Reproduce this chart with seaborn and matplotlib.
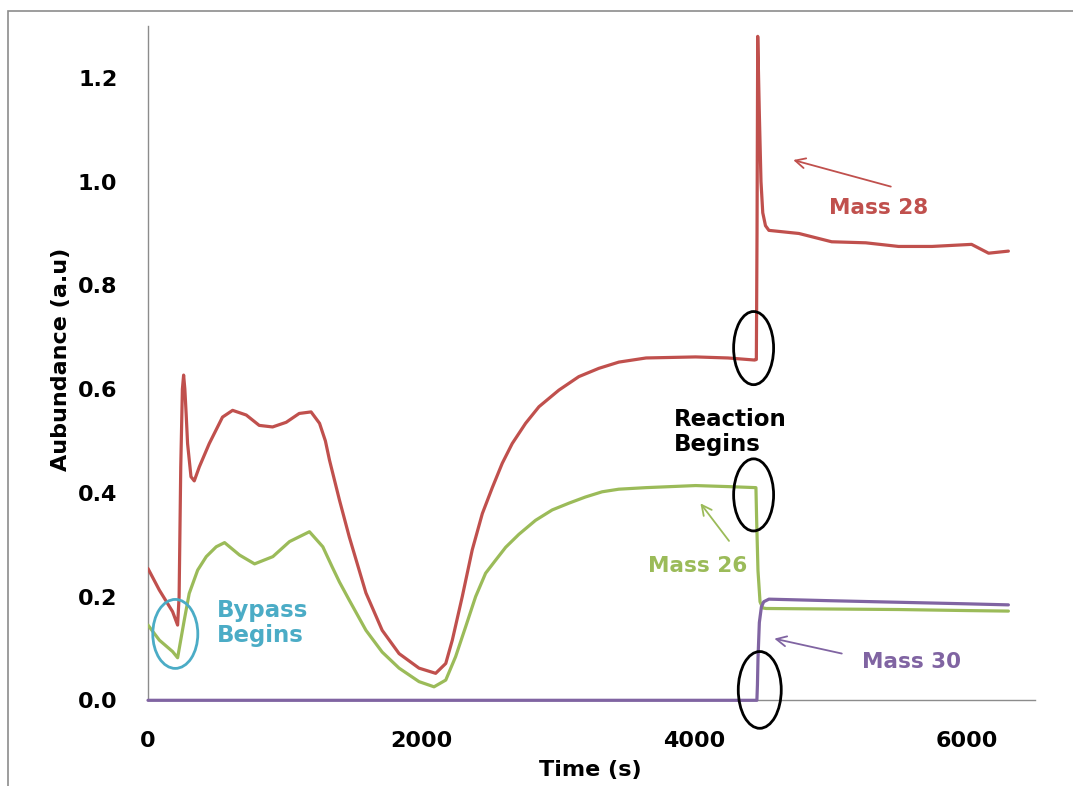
import numpy as np
import pandas as pd
import matplotlib
matplotlib.use("Agg")
import matplotlib.pyplot as plt
from matplotlib.patches import Ellipse, Rectangle
import seaborn as sns

# Data
time_28 = [0, 83, 180, 217, 228, 240, 252, 261, 270, 280, 290, 315, 339, 376, 449, 546,
           620, 720, 815, 913, 1013, 1108, 1195, 1257, 1300, 1330, 1403, 1475,
           1597, 1716, 1840, 1986, 2108, 2182, 2230, 2303, 2376, 2450, 2523, 2596, 2669,
           2767, 2865, 3011, 3157, 3304, 3450, 3650, 4013, 4250, 4445, 4458, 4463, 4468,
           4480, 4492, 4505, 4525, 4550, 4770, 5010, 5260, 5500, 5745, 6035, 6160, 6305]
mass_28 = [0.254, 0.2125, 0.171, 0.145, 0.2, 0.45, 0.6, 0.627, 0.6, 0.55, 0.495, 0.431,
           0.423, 0.45, 0.495, 0.546, 0.559, 0.55, 0.53, 0.527, 0.536, 0.553, 0.556,
           0.534, 0.5, 0.463, 0.386, 0.315, 0.207, 0.135, 0.09, 0.062, 0.052, 0.071,
           0.116, 0.20, 0.29, 0.36, 0.41, 0.457, 0.495, 0.534, 0.566, 0.598, 0.624, 0.64,
           0.652, 0.66, 0.662, 0.66, 0.656, 0.657, 0.9, 1.28, 1.13, 1.0, 0.94, 0.915,
           0.906, 0.90, 0.884, 0.882, 0.875, 0.875, 0.879, 0.862, 0.866]

time_26 = [0, 83, 180, 217, 266, 302, 364, 427, 500, 561, 671, 781, 915, 1037, 1183,
           1281, 1350, 1403, 1475, 1597, 1716, 1840, 1986, 2096, 2182, 2254, 2328, 2401,
           2474, 2547, 2621, 2718, 2840, 2962, 3084, 3206, 3328, 3450, 3650, 4013, 4250,
           4455, 4460, 4470, 4485, 4505, 4530, 5000, 5500, 6000, 6305]
mass_26 = [0.145, 0.116, 0.094, 0.082, 0.155, 0.206, 0.251, 0.277, 0.296, 0.304, 0.28,
           0.263, 0.277, 0.306, 0.325, 0.296, 0.257, 0.228, 0.193, 0.135, 0.093, 0.062,
           0.036, 0.026, 0.039, 0.084, 0.142, 0.20, 0.245, 0.27, 0.295, 0.32, 0.347,
           0.367, 0.38, 0.392, 0.402, 0.407, 0.41, 0.414, 0.412, 0.41, 0.35, 0.25, 0.19,
           0.178, 0.177, 0.176, 0.175, 0.173, 0.172]

time_30 = [0, 2000, 4000, 4462, 4466, 4470, 4480, 4495, 4512, 4550, 5000, 5500, 6000, 6305]
mass_30 = [0.0, 0.0, 0.0, 0.0, 0.03, 0.08, 0.15, 0.18, 0.19, 0.195, 0.192, 0.189, 0.186, 0.184]

red = "#C0504D"
green = "#9BBB59"
purple = "#8064A2"
blue = "#4BACC6"
grey = "#8c8c8c"

sns.set_style("white")
plt.rcParams["font.family"] = ["DejaVu Sans"]
plt.rcParams["text.color"] = "black"
plt.rcParams["axes.labelcolor"] = "black"

fig = plt.figure(figsize=(10.73, 7.86), dpi=100)
ax = fig.add_axes([148 / 1073, 1 - 700.3 / 786, (1035 - 148) / 1073, (700.3 - 26) / 786])

df26 = pd.DataFrame({"t": time_26, "v": mass_26})
df28 = pd.DataFrame({"t": time_28, "v": mass_28})
df30 = pd.DataFrame({"t": time_30, "v": mass_30})

sns.lineplot(data=df26, x="t", y="v", ax=ax, color=green, lw=2.3, estimator=None,
             zorder=3)
sns.lineplot(data=df28, x="t", y="v", ax=ax, color=red, lw=2.3, estimator=None,
             zorder=3)
sns.lineplot(data=df30, x="t", y="v", ax=ax, color=purple, lw=2.3, estimator=None,
             clip_on=False, zorder=3)

ax.set_xlim(0, 6500)
ax.set_ylim(0, 1.3)
ax.set_xticks([0, 2000, 4000, 6000])
ax.set_yticks([0, 0.2, 0.4, 0.6, 0.8, 1.0, 1.2])
ax.set_yticklabels(["0.0", "0.2", "0.4", "0.6", "0.8", "1.0", "1.2"])
for s in ["top", "right"]:
    ax.spines[s].set_visible(False)
for s in ["left", "bottom"]:
    ax.spines[s].set_color(grey)
    ax.spines[s].set_linewidth(1)
ax.tick_params(axis="both", direction="out", length=8, width=1, color=grey,
               labelsize=16, labelcolor="black")
ax.tick_params(axis="y", pad=14)
ax.tick_params(axis="x", pad=14)
for lab in ax.get_xticklabels() + ax.get_yticklabels():
    lab.set_fontweight("bold")

ax.set_xlabel("Time (s)", fontsize=16, fontweight="bold", va="center")
ax.set_ylabel("Aubundance (a.u)", fontsize=16, fontweight="bold", va="center")
ax.xaxis.set_label_coords(0.499, -0.103)
ax.yaxis.set_label_coords(-0.098, 0.505)

# annotations
ax.text(5354, 0.950, "Mass 28", color=red, fontsize=15.5, fontweight="bold",
        ha="center", va="center")
ax.annotate("", xy=(4709, 1.043), xytext=(5463, 0.989),
            arrowprops=dict(arrowstyle="->", color=red, lw=1.3, mutation_scale=18))
ax.text(4029, 0.259, "Mass 26", color=green, fontsize=15.5, fontweight="bold",
        ha="center", va="center")
ax.annotate("", xy=(4036, 0.384), xytext=(4270, 0.303),
            arrowprops=dict(arrowstyle="->", color=green, lw=1.3, mutation_scale=18))
ax.text(5595, 0.074, "Mass 30", color=purple, fontsize=15.5, fontweight="bold",
        ha="center", va="center")
ax.annotate("", xy=(4570, 0.120), xytext=(5104, 0.089),
            arrowprops=dict(arrowstyle="->", color=purple, lw=1.3, mutation_scale=18))
ax.text(3853, 0.517, "Reaction\nBegins", color="black", fontsize=16.5,
        fontweight="bold", ha="left", va="center", linespacing=1.1)
ax.text(507, 0.149, "Bypass\nBegins", color=blue, fontsize=16.5,
        fontweight="bold", ha="left", va="center", linespacing=1.1)

# circled regions
ellipses = [(4438, 0.679, 293, 0.141, "black"),
            (4438, 0.396, 293, 0.139, "black"),
            (4483, 0.020, 315, 0.148, "black"),
            (200, 0.128, 330, 0.133, blue)]
for cx, cy, w, h, c in ellipses:
    ax.add_patch(Ellipse((cx, cy), w, h, fill=False, ec=c, lw=2, clip_on=False,
                         zorder=5))

# outer frame of the picture
fig.add_artist(Rectangle((8 / 1073, -0.1), 2, 1 - 10.5 / 786 + 0.1,
                         transform=fig.transFigure, fill=False, ec=grey, lw=1.2))

fig.savefig("out.png", dpi=100)
